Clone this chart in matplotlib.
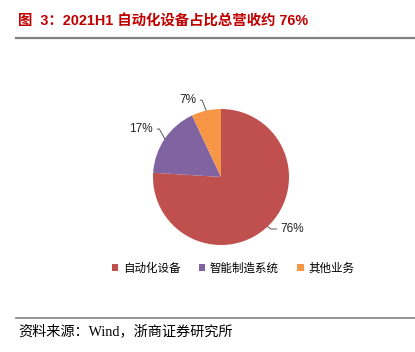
import matplotlib
matplotlib.use("Agg")
import matplotlib.pyplot as plt
from matplotlib.lines import Line2D
from matplotlib.patches import Patch
import numpy as np

categories = ["自动化设备", "智能制造系统", "其他业务"]
values = [76, 17, 7]
labels = ["76%", "17%", "7%"]
colors = ["#C0504D", "#8064A2", "#F79646"]

W, H = 415, 352
fig = plt.figure(figsize=(W / 100, H / 100), dpi=100)
fig.patch.set_facecolor("white")

cjk = ["Noto Sans CJK SC", "DejaVu Sans"]

# title
fig.text(18 / W, 1 - 22 / H, "图  3：2021H1 自动化设备占比总营收约 76%", family=["Liberation Sans", "Noto Sans CJK SC"],
         fontsize=10.4, fontweight="bold", color="#C00000", va="center", ha="left")
fig.add_artist(Line2D([16 / W, 1], [1 - 38 / H, 1 - 38 / H], color="#7F7F7F", lw=1.6))
fig.add_artist(Line2D([16 / W, 1], [1 - 318 / H, 1 - 318 / H], color="#7F7F7F", lw=1.2))
fig.text(18 / W, 1 - 331 / H, "资料来源：Wind，浙商证券研究所", family=["Liberation Serif", "Noto Sans CJK SC"],
         fontsize=10.2, color="black", va="center", ha="left")

cx, cy, r = 221, 177, 68
ax = fig.add_axes([(cx - r) / W, 1 - (cy + r) / H, 2 * r / W, 2 * r / H])
wedges, _ = ax.pie(values, colors=colors, startangle=90, counterclock=False, radius=1,
                   wedgeprops=dict(linewidth=0))
ax.set_xlim(-1, 1)
ax.set_ylim(-1, 1)
ax.set_aspect("auto")
ax.axis("off")

cum = np.cumsum([0] + values[:-1])
text_pos = [(0.88, -0.765), (-1.0, 0.706), (-0.368, 1.13)]
has = ["left", "right", "right"]
angB = [-35, 119, 111]
for i, (v, lab) in enumerate(zip(values, labels)):
    mid = np.deg2rad(90 - (cum[i] + v / 2) / 100 * 360)
    px, py = np.cos(mid), np.sin(mid)
    tx, ty = text_pos[i]
    ax.annotate(lab, xy=(px, py), xytext=(tx, ty), ha=has[i], va="center",
                fontsize=8.5, color="#222222", family="Liberation Sans",
                arrowprops=dict(arrowstyle="-", color="#404040", lw=0.6,
                                shrinkA=1.0, shrinkB=0,
                                connectionstyle=f"angle,angleA=0,angleB={angB[i]},rad=0"),
                annotation_clip=False)

handles = [Patch(facecolor=c, edgecolor="none") for c in colors]
fig.legend(handles, categories, loc="center", bbox_to_anchor=(233 / W, 1 - 268 / H), ncol=3,
           frameon=False, prop={"family": cjk, "size": 8.3}, handlelength=0.55, handleheight=0.55,
           handletextpad=0.4, columnspacing=1.6)

fig.savefig("out.png", dpi=100)
